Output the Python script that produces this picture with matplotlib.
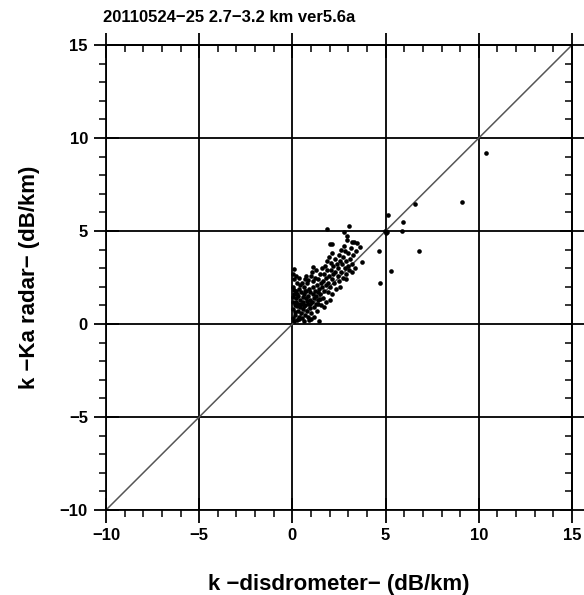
import matplotlib
matplotlib.use("Agg")
import matplotlib.pyplot as plt
from matplotlib.ticker import MultipleLocator

plt.rcParams['font.family'] = ['Liberation Sans', 'DejaVu Sans']

title = "20110524\u221225 2.7\u22123.2 km ver5.6a"
xlabel = "k \u2212disdrometer\u2212 (dB/km)"
ylabel = "k \u2212Ka radar\u2212 (dB/km)"
ticks = [-10, -5, 0, 5, 10, 15]
tick_labels = ["\u221210", "\u22125", "0", "5", "10", "15"]

# disdrometer attenuation (x) and radar attenuation (y), dB/km
x_disdrometer = [
    0.02, 0.05, 0.03, 0.08, 0.04, 0.10, 0.03, 0.06, 0.12, 0.15, 0.18, 0.20, 0.22, 0.25, 0.28, 0.30,
    0.32, 0.35, 0.38, 0.40, 0.42, 0.45, 0.48, 0.10, 0.14, 0.20, 0.26, 0.33, 0.41, 0.07, 0.17, 0.36,
    0.44, 0.02, 0.24,
    0.52, 0.55, 0.58, 0.60, 0.62, 0.65, 0.68, 0.70, 0.72, 0.75, 0.78, 0.80, 0.82, 0.85, 0.88, 0.90,
    0.92, 0.95, 0.98, 0.57, 0.63, 0.73, 0.86, 0.93, 0.67, 0.77, 0.54, 0.96, 0.84, 0.61,
    1.02, 1.05, 1.08, 1.10, 1.12, 1.15, 1.18, 1.20, 1.22, 1.25, 1.28, 1.30, 1.33, 1.35, 1.38, 1.40,
    1.42, 1.45, 1.48, 1.50, 1.52, 1.55, 1.58, 1.06, 1.16, 1.26, 1.36, 1.46, 1.12, 1.00,
    1.62, 1.65, 1.68, 1.70, 1.75, 1.78, 1.80, 1.82, 1.85, 1.88, 1.90, 1.92, 1.95, 1.98, 2.00, 2.05,
    2.08, 2.10, 2.12, 2.15, 2.18, 2.20, 2.25, 2.28, 2.30, 2.35, 2.38, 1.72, 2.02, 1.60,
    2.42, 2.45, 2.50, 2.52, 2.55, 2.60, 2.62, 2.65, 2.70, 2.72, 2.75, 2.80, 2.82, 2.85, 2.90, 2.95,
    2.98, 3.00, 3.05, 3.10, 3.15, 3.20, 3.25, 3.30, 3.35, 3.40, 2.58, 2.88, 3.18,
    1.86, 3.06, 2.79, 2.93, 2.00, 2.10, 3.20, 3.47, 3.65, 3.74, 4.69, 4.63, 6.78, 5.29, 5.11, 5.94,
    5.88, 5.08, 4.98, 5.02, 6.60, 9.12, 10.39,
]
y_radar = [
    0.30, 0.80, 1.20, 1.60, 2.00, 2.40, 2.70, 2.95, 0.50, 1.00, 1.40, 1.80, 2.20, 0.20, 0.70, 1.10,
    1.50, 1.90, 0.40, 0.90, 1.30, 1.70, 0.60, 0.15, 0.65, 1.20, 1.60, 2.50, 2.10, 1.85, 2.60, 0.25,
    1.05, 1.45, 0.95,
    0.30, 0.80, 1.20, 1.60, 2.00, 2.40, 0.50, 1.00, 1.40, 1.80, 2.20, 0.70, 1.10, 1.50, 1.90, 0.20,
    1.30, 1.70, 2.60, 1.45, 0.95, 2.60, 2.35, 0.85, 1.75, 1.25, 2.20, 1.10, 0.40, 0.15,
    0.60, 1.20, 1.60, 2.00, 2.30, 0.90, 1.40, 1.80, 2.50, 1.10, 1.50, 2.10, 0.70, 1.70, 2.40, 1.30,
    1.90, 0.18, 2.70, 1.60, 2.20, 1.00, 2.00, 2.80, 0.40, 2.90, 1.05, 1.35, 3.05, 0.25,
    1.40, 2.30, 2.70, 1.80, 3.10, 2.10, 2.50, 1.20, 2.90, 3.40, 1.70, 2.20, 2.60, 3.60, 2.00, 2.90,
    3.30, 2.40, 1.60, 3.80, 2.70, 3.10, 2.20, 3.50, 2.80, 1.90, 3.20, 0.90, 1.30, 3.00,
    2.60, 3.00, 3.70, 2.30, 3.40, 4.00, 2.80, 3.20, 3.60, 2.50, 4.20, 3.00, 3.90, 2.70, 3.40, 4.50,
    3.10, 3.80, 2.90, 3.50, 4.10, 3.20, 3.70, 4.40, 3.00, 3.90, 2.00, 2.40, 2.80,
    5.09, 5.25, 4.95, 4.73, 4.30, 4.30, 4.43, 4.37, 4.16, 3.35, 2.19, 3.92, 3.92, 2.85, 5.84, 5.48,
    4.98, 4.95, 5.02, 4.88, 6.45, 6.54, 9.21,
]

fig = plt.figure(figsize=(5.84, 5.95), dpi=100)
ax = fig.add_axes([106/584, 1-510/595, 466/584, 465/595])

lo, hi = -10, 15
ax.plot([lo, hi], [lo, hi], color='#555555', lw=1.1, zorder=2)
ax.scatter(x_disdrometer, y_radar, s=11, c='black', marker='o', linewidths=0, zorder=3)

ax.set_xlim(lo, hi)
ax.set_ylim(lo, hi)
ax.set_xticks(ticks)
ax.set_yticks(ticks)
ax.set_xticklabels(tick_labels)
ax.set_yticklabels(tick_labels)
ax.xaxis.set_minor_locator(MultipleLocator(1))
ax.yaxis.set_minor_locator(MultipleLocator(1))
ax.grid(True, which='major', color='black', lw=1.3, zorder=1)
for s in ax.spines.values():
    s.set_linewidth(1.3)

ax.tick_params(which='major', direction='inout', length=18, width=1.3,
               labelsize=12, pad=4, top=False, right=False)
ax.tick_params(which='minor', direction='out', length=5, width=1.1, top=False, right=False)
for lab in ax.get_xticklabels() + ax.get_yticklabels():
    lab.set_fontweight('bold')

# top and right axes: minor ticks pointing inward
axt = ax.secondary_xaxis('top')
axt.set_xticks(ticks)
axt.xaxis.set_minor_locator(MultipleLocator(1))
axt.tick_params(which='major', direction='inout', length=18, width=1.3, labeltop=False)
axt.tick_params(which='minor', direction='in', length=5, width=1.1)
axr = ax.secondary_yaxis('right')
axr.set_yticks(ticks)
axr.yaxis.set_minor_locator(MultipleLocator(1))
axr.tick_params(which='major', direction='inout', length=18, width=1.3, labelright=False)
axr.tick_params(which='minor', direction='in', length=5, width=1.1)
for a in (axt, axr):
    for s in a.spines.values():
        s.set_linewidth(1.3)

ax.set_xlabel(xlabel, fontsize=16, fontweight='bold', labelpad=22)
ax.set_ylabel(ylabel, fontsize=16, fontweight='bold', labelpad=14)
fig.text(103/584, 1-18/595, title, fontsize=12, fontweight='bold', ha='left', va='center')

fig.savefig("out.png", dpi=100)
